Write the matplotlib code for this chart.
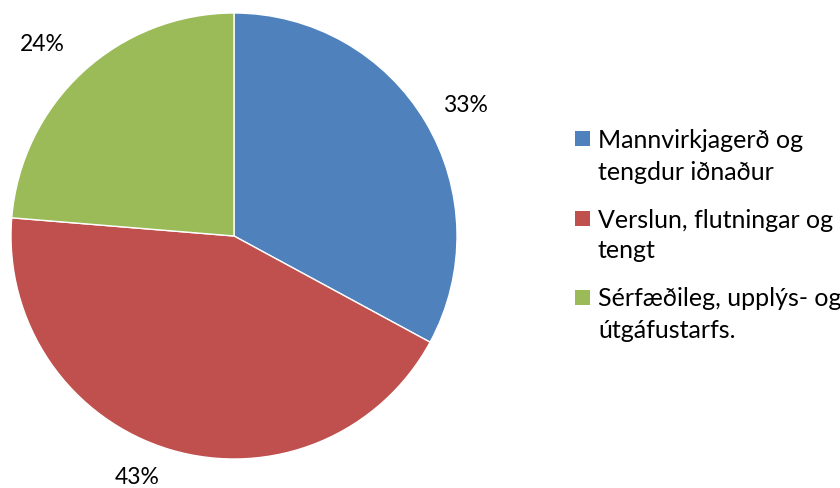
import matplotlib
matplotlib.use("Agg")
import matplotlib.pyplot as plt
from matplotlib.patches import Rectangle

labels = ["Mannvirkjagerð og\ntengdur iðnaður",
          "Verslun, flutningar og\ntengt",
          "Sérfæðileg, upplýs- og\nútgáfustarfs."]
values = [32.9, 43.4, 23.7]
colors = ["#4F81BD", "#C0504D", "#9BBB59"]
# label spots (relative to pie radius)
label_pos = [(1.04, 0.587), (-0.435, -1.085), (-0.861, 0.857)]

plt.rcParams["font.family"] = ["Lato", "DejaVu Sans"]

W, H = 840, 488
fig = plt.figure(figsize=(W / 100, H / 100), dpi=100)
ax = fig.add_axes([11 / W, (H - 236 - 223) / H, 446 / W, 446 / H])
wedges, _ = ax.pie(values, colors=colors, startangle=90, counterclock=False,
                   radius=1, wedgeprops=dict(edgecolor="white", linewidth=1))
ax.set_xlim(-1, 1)
ax.set_ylim(-1, 1)
ax.set_aspect("equal")
ax.axis("off")

total = sum(values)
for v, (x, y) in zip(values, label_pos):
    ax.text(x, y, f"{round(100 * v / total)}%", ha="center", va="center",
            fontsize=16.5, clip_on=False)

# legend drawn by hand so the swatch sits on the first text line
for i, (lab, c) in enumerate(zip(labels, colors)):
    yc = 139 + i * 79
    fig.patches.append(Rectangle((575 / W, 1 - (yc + 7.5) / H), 15 / W, 15 / H,
                                 transform=fig.transFigure, facecolor=c,
                                 edgecolor="none"))
    first, second = lab.split("\n")
    fig.text(598 / W, 1 - yc / H, first, fontsize=18, va="center_baseline")
    fig.text(598 / W, 1 - (yc + 31) / H, second, fontsize=18, va="center_baseline")

fig.savefig("out.png", dpi=100)
